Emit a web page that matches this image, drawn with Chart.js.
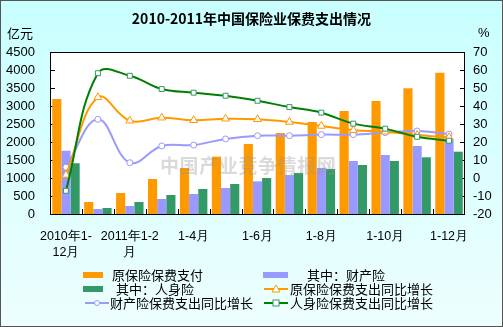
<!DOCTYPE html>
<html><head><meta charset="utf-8">
<script src="https://cdn.jsdelivr.net/npm/chart.js@4.4.0/dist/chart.umd.min.js"></script>
<style>
html,body{margin:0;padding:0;background:#fff;}
#wrap{position:relative;width:503px;height:327px;overflow:hidden;background:linear-gradient(#c8ffff,#eefefe);box-shadow:inset 0 0 0 1px #555;font-family:"Noto Sans CJK SC","Liberation Sans",sans-serif;color:#000;}
#c{position:absolute;left:0;top:0;}
.t{position:absolute;white-space:pre;line-height:14px;font-size:13px;}
#title{position:absolute;left:0;width:503px;top:9px;text-align:center;font-weight:bold;font-size:14px;line-height:18px;}
#wm{position:absolute;left:160px;top:151px;font-size:19px;font-weight:bold;color:rgba(150,150,150,0.35);letter-spacing:0.6px;white-space:pre;}
.sw{position:absolute;height:6px;}
.ls{position:absolute;}
</style></head>
<body>
<div id="wrap">
<canvas id="c" width="503" height="327"></canvas>
<div id="title">2010-2011年中国保险业保费支出情况</div>
<div class="t" style="left:7px;top:26px;">亿元</div>
<div class="t" style="left:478px;top:26px;font-family:'Liberation Sans';">%</div>
<div id="wm">中国产业竞争情报网</div>
<div id="legend"></div>
</div>
<script>
// ---- data ----
const categories = ['2010年1-12月','2011年1月','2011年1-2月','2011年1-3月','2011年1-4月','2011年1-5月','2011年1-6月','2011年1-7月','2011年1-8月','2011年1-9月','2011年1-10月','2011年1-11月','2011年1-12月'];
const tickLabels = [['2010年1-','12月'], '', ['2011年1-2','月'], '', '1-4月', '', '1-6月', '', '1-8月', '', '1-10月', '', '1-12月'];
const seriesNames = ['原保险保费支付','其中：财产险','其中：人身险','原保险保费支出同比增长','财产险保费支出同比增长','人身险保费支出同比增长'];
const totalPay    = [3194, 333, 583, 972, 1278, 1592, 1944, 2250, 2556, 2861, 3139, 3492, 3925];
const propertyPay = [1758, 139, 222, 417, 556, 722, 908, 1083, 1278, 1472, 1639, 1889, 2090];
const lifePay     = [1410, 167, 333, 528, 694, 833, 1000, 1139, 1250, 1361, 1472, 1575, 1731];
const totalGrowth    = [1.7, 44.8, 31.8, 33.5, 32.1, 32.9, 32.6, 31.1, 28.9, 26.5, 25.7, 23.9, 22.6];
const propertyGrowth = [6.0, 32.6, 8.5, 17.8, 18.3, 21.7, 23.5, 23.5, 24.1, 24.1, 25.2, 26.1, 24.4];
const lifeGrowth     = [-7.1, 58.2, 56.8, 49.4, 47.4, 45.7, 42.9, 39.4, 36.3, 30.2, 27.4, 22.9, 20.7];
const leftTicks  = {min:0, max:4500, step:500};
const rightTicks = {min:-20, max:70, step:10};

// ---- colours ----
const cOrange = '#ff9900', cPurple = '#9999ff', cGreen = '#339966', cLine = '#008000';

const frame = {
  id:'frame',
  beforeDraw(chart){
    const {ctx, chartArea:a} = chart;
    ctx.save(); ctx.fillStyle = '#fff';
    ctx.fillRect(a.left, a.top, a.right-a.left, a.bottom-a.top);
    ctx.restore();
  },
  beforeDatasetsDraw(chart){
    const {ctx, chartArea:a, scales} = chart;
    ctx.save(); ctx.strokeStyle = '#000'; ctx.lineWidth = 1;
    ctx.beginPath();
    scales.y.ticks.forEach((t,i)=>{ const y = Math.round(scales.y.getPixelForTick(i))+0.5; ctx.moveTo(a.left, y); ctx.lineTo(a.left+5, y); });
    scales.y1.ticks.forEach((t,i)=>{ const y = Math.round(scales.y1.getPixelForTick(i))+0.5; ctx.moveTo(a.right-5, y); ctx.lineTo(a.right, y); });
    for (let i = 1; i < categories.length; i++) {
      const x = Math.round(scales.x.getPixelForValue(i-0.5))+0.5;
      ctx.moveTo(x, a.bottom); ctx.lineTo(x, a.bottom-5);
    }
    ctx.stroke(); ctx.restore();
  },
  afterDraw(chart){
    const {ctx, chartArea:a} = chart;
    ctx.save(); ctx.strokeStyle = '#000'; ctx.lineWidth = 1;
    ctx.strokeRect(Math.round(a.left)+0.5, Math.round(a.top)+0.5, Math.round(a.right-a.left)-1, Math.round(a.bottom-a.top));
    ctx.restore();
  }
};

const tickFont = {family:'Liberation Sans', size:13};
new Chart(document.getElementById('c'), {
  data:{
    labels: categories,
    datasets:[
      {type:'line', label:seriesNames[5], data:lifeGrowth, yAxisID:'y1', order:0,
       borderColor:cLine, borderWidth:2, tension:0.4, pointStyle:'rect', pointRadius:3.5,
       pointBackgroundColor:'#fff', pointBorderColor:cGreen, pointBorderWidth:1},
      {type:'line', label:seriesNames[3], data:totalGrowth, yAxisID:'y1', order:0,
       borderColor:cOrange, borderWidth:2, tension:0.4, pointStyle:'triangle', pointRadius:4.5,
       pointBackgroundColor:'#fff', pointBorderColor:cOrange, pointBorderWidth:1},
      {type:'line', label:seriesNames[4], data:propertyGrowth, yAxisID:'y1', order:0,
       borderColor:cPurple, borderWidth:2, tension:0.4, pointStyle:'circle', pointRadius:3,
       pointBackgroundColor:'#fff', pointBorderColor:cPurple, pointBorderWidth:1},
      {type:'bar', label:seriesNames[0], data:totalPay, yAxisID:'y', order:1, backgroundColor:cOrange, categoryPercentage:0.86, barPercentage:1},
      {type:'bar', label:seriesNames[1], data:propertyPay, yAxisID:'y', order:1, backgroundColor:cPurple, categoryPercentage:0.86, barPercentage:1},
      {type:'bar', label:seriesNames[2], data:lifePay, yAxisID:'y', order:1, backgroundColor:cGreen, categoryPercentage:0.86, barPercentage:1}
    ]
  },
  options:{
    responsive:false, animation:false, events:[],
    layout:{padding:{top:52, left:0, right:0, bottom:0}},
    plugins:{legend:{display:false}, title:{display:false}, tooltip:{enabled:false}},
    scales:{
      x:{type:'category', offset:true,
         grid:{display:false, drawTicks:false}, border:{display:false},
         ticks:{autoSkip:false, maxRotation:0, minRotation:0, color:'#000', padding:14,
                font:{family:'Liberation Sans', size:12.5, lineHeight:1.3},
                callback:(v,i)=>tickLabels[i]},
         afterFit:(s)=>{s.height = 113;}},
      y:{position:'left', min:leftTicks.min, max:leftTicks.max,
         grid:{display:false, drawTicks:false}, border:{display:false},
         ticks:{stepSize:leftTicks.step, autoSkip:false, color:'#000', font:tickFont, padding:15,
                callback:(v)=>String(v)},
         afterFit:(s)=>{s.width = 50;}},
      y1:{position:'right', min:rightTicks.min, max:rightTicks.max,
         grid:{display:false, drawTicks:false}, border:{display:false},
         ticks:{stepSize:rightTicks.step, autoSkip:false, color:'#000', font:tickFont, padding:8,
                callback:(v)=>String(v)},
         afterFit:(s)=>{s.width = 38;}}
    }
  },
  plugins:[frame]
});

// ---- HTML legend ----
function lineSwatch(color, marker, mcolor){
  let m = '';
  if (marker==='circle') m = `<circle cx="12" cy="5" r="2.5" fill="#fff" stroke="${mcolor}" stroke-width="1"/>`;
  if (marker==='triangle') m = `<polygon points="12,1 16,8 8,8" fill="#fff" stroke="${mcolor}" stroke-width="1"/>`;
  if (marker==='rect') m = `<rect x="9" y="2" width="6" height="6" fill="#fff" stroke="${mcolor}" stroke-width="1"/>`;
  return `<svg width="24" height="10"><line x1="0" y1="5" x2="24" y2="5" stroke="${color}" stroke-width="2"/>${m}</svg>`;
}
const L = document.getElementById('legend');
const items = [
  {row:275, sx:83, sw:20, kind:'bar', color:cOrange, tx:112, text:seriesNames[0]},
  {row:275, sx:263, sw:25, kind:'bar', color:cPurple, tx:307, text:seriesNames[1]},
  {row:289, sx:83, sw:20, kind:'bar', color:cGreen, tx:116, text:seriesNames[2]},
  {row:289, sx:264, kind:'line', color:cOrange, marker:'triangle', mcolor:cOrange, tx:290, text:seriesNames[3]},
  {row:303, sx:85, kind:'line', color:cPurple, marker:'circle', mcolor:cPurple, tx:110, text:seriesNames[4]},
  {row:303, sx:264, kind:'line', color:cLine, marker:'rect', mcolor:cGreen, tx:290, text:seriesNames[5]}
];
let html = '';
items.forEach(it=>{
  if (it.kind==='bar') html += `<div class="sw" style="left:${it.sx}px;top:${it.row-3}px;width:${it.sw}px;background:${it.color}"></div>`;
  else html += `<div class="ls" style="left:${it.sx}px;top:${it.row-5}px;height:10px;line-height:0">${lineSwatch(it.color,it.marker,it.mcolor)}</div>`;
  html += `<div class="t" style="left:${it.tx}px;top:${it.row-7}px">${it.text}</div>`;
});
L.innerHTML = html;
</script>
</body></html>
